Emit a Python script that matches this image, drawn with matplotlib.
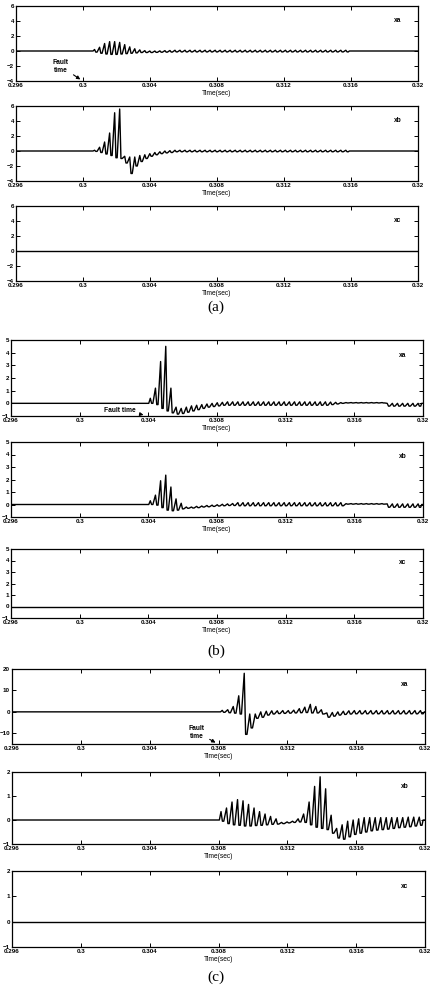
import matplotlib
matplotlib.use("Agg")
import matplotlib.pyplot as plt

# -------------------------
# Data
# -------------------------
T_MIN, T_MAX = 0.296, 0.32
XTICKS = [0.296, 0.300, 0.304, 0.308, 0.312, 0.316, 0.320]
XTICK_LABELS = ["0.296", "0.3", "0.304", "0.308", "0.312", "0.316", "0.32"]

# each signal: start of disturbance, oscillation period, then per-cycle high / low values
# (a) fault at 0.300 s
a_xa_start, a_xa_period = 0.3006, 0.0003
a_xa_hi = [0.2, 0.5, 1.0, 1.25, 1.25, 1.15, 0.85, 0.55, 0.3, 0.15, 0.05, 0.0, 0.0, 0.02, 0.05, 0.07] + [0.1] * 35
a_xa_lo = [-0.15, -0.3, -0.4, -0.45, -0.45, -0.4, -0.35, -0.3, -0.25, -0.2, -0.2, -0.2, -0.18, -0.16, -0.15, -0.14] + [-0.12] * 35

a_xb_start, a_xb_period = 0.3006, 0.0003
a_xb_hi = [0.1, 0.5, 1.2, 2.4, 5.1, 5.6, -0.7, -0.8, -0.8, -0.6, -0.5, -0.35, -0.2, -0.1, 0.0, 0.05] + [0.1] * 35
a_xb_lo = [-0.05, -0.2, -0.4, -0.6, -0.9, -1.0, -1.6, -3.0, -2.0, -1.4, -1.0, -0.7, -0.5, -0.35, -0.25, -0.2] + [-0.1] * 35

a_xc_start, a_xc_period = 0.3006, 0.0003
a_xc_hi = []
a_xc_lo = []

# (b) fault at 0.304 s
b_xa_start, b_xa_period = 0.304025, 0.0003
b_xa_hi = ([0.4, 1.2, 3.3, 4.5, 1.2, -0.3, -0.4, -0.3, -0.2, -0.15, -0.1, -0.05, 0.0, 0.05, 0.08]
           + [0.12] * 20 + [0.1, 0.08, 0.06] + [0.06] * 8 + [0.0] * 7)
b_xa_lo = ([0.0, -0.1, -0.4, -0.6, -0.75, -0.85, -0.8, -0.7, -0.6, -0.5, -0.4, -0.3, -0.25, -0.2, -0.15]
           + [-0.15] * 20 + [-0.1, -0.05, 0.0] + [0.03] * 8 + [-0.22] * 7)

b_xb_start, b_xb_period = 0.304025, 0.0003
b_xb_hi = ([0.3, 0.75, 1.9, 2.35, 1.4, 0.45, 0.1, -0.2, -0.2, -0.15, -0.12, -0.08, -0.05, -0.02, 0.02, 0.05, 0.08]
           + [0.15] * 21 + [0.07] * 8 + [0.05] * 7)
b_xb_lo = ([0.0, -0.05, -0.25, -0.45, -0.5, -0.45, -0.35, -0.3, -0.28, -0.25, -0.2, -0.18, -0.15, -0.12, -0.1, -0.08, -0.08]
           + [-0.1] * 21 + [0.03] * 8 + [-0.22] * 7)

b_xc_start, b_xc_period = 0.304025, 0.0003
b_xc_hi = []
b_xc_lo = []

# (c) fault at 0.308 s
c_xa_start, c_xa_period = 0.30812, 0.00032
c_xa_hi = ([0.7, 1.0, 2.5, 7.5, 18.0, -1.0, -1.0, 0.0, 0.3, 0.5, 0.5, 0.6, 0.6, 0.8,
            1.5, 2.2, 3.5, 2.5, 1.0, -0.5, -0.3, 0.0, 0.3, 0.5] + [0.6] * 13)
c_xa_lo = ([-0.2, -0.4, -0.6, -1.0, -10.5, -7.5, -3.0, -2.5, -1.5, -1.0, -0.8, -0.7, -0.6, -0.5,
            -0.4, -0.3, -0.5, -0.5, -1.0, -2.5, -2.0, -1.5, -1.2, -1.0] + [-0.9] * 13)

c_xb_start, c_xb_period = 0.30805, 0.00032
c_xb_hi = ([0.35, 0.5, 0.75, 0.85, 0.8, 0.65, 0.5, 0.35, 0.25, 0.15, 0.05,
            -0.1, -0.08, -0.05,
            0.05, 0.25, 0.75, 1.4, 1.8, 1.3, 0.2,
            -0.35, -0.2, -0.05, 0.0, 0.05, 0.1, 0.1, 0.1, 0.1, 0.1, 0.1, 0.1, 0.1, 0.12, 0.12, 0.12])
c_xb_lo = ([-0.05, -0.15, -0.2, -0.22, -0.25, -0.25, -0.23, -0.22, -0.2, -0.18, -0.17,
            -0.15, -0.12, -0.1,
            -0.08, -0.1, -0.2, -0.3, -0.35, -0.4, -0.55,
            -0.75, -0.8, -0.7, -0.6, -0.55, -0.5, -0.45, -0.42, -0.4, -0.38, -0.35, -0.32, -0.3, -0.28, -0.25, -0.22])

c_xc_start, c_xc_period = 0.30805, 0.00032
c_xc_hi = []
c_xc_lo = []

# y axes per panel
a_ylim, a_yticks = (-4, 6), [-4, -2, 0, 2, 4, 6]
b_ylim, b_yticks = (-1, 5), [-1, 0, 1, 2, 3, 4, 5]
c1_ylim, c1_yticks = (-15, 20), [-10, 0, 10, 20]
c2_ylim, c2_yticks = (-1, 2), [-1, 0, 1, 2]

# -------------------------
# Layout (pixel boxes: left, right, top, bottom)
# -------------------------
W, H = 430, 986
plt.rcParams['font.family'] = ['Liberation Sans Narrow', 'Liberation Sans', 'DejaVu Sans']
plt.rcParams['font.weight'] = 'bold'


def px_box(left, right, top, bottom):
    return [left / W, 1 - bottom / H, (right - left) / W, (bottom - top) / H]


def build_path(t0, period, hi, lo):
    # narrow spike up to the high value, short hold near the low value
    t = [T_MIN, t0]
    v = [0.0, 0.0]
    for k, (h, l) in enumerate(zip(hi, lo)):
        t += [t0 + (k + 0.3) * period, t0 + (k + 0.55) * period, t0 + (k + 0.8) * period]
        v += [h, l, l]
    t_end = t0 + len(hi) * period
    if t_end < T_MAX:
        t += [t_end, T_MAX]
        v += [0.0, 0.0]
    return t, v


def style_axes(ax, ylim, yticks):
    ax.set_xlim(T_MIN, T_MAX)
    ax.set_ylim(*ylim)
    ax.set_xticks(XTICKS)
    ax.set_xticklabels(XTICK_LABELS)
    ax.set_yticks(yticks)
    ax.tick_params(direction='in', top=True, right=True, length=3, width=0.7,
                   labelsize=4.5, pad=1.5)
    for sp in ax.spines.values():
        sp.set_linewidth(0.9)
    ax.set_xlabel("Time(sec)", fontsize=4.8, labelpad=1.5)


fig = plt.figure(figsize=(W / 100, H / 100), dpi=100)

panels = [
    # (box, signal, ylim, yticks, label)
    (px_box(16, 418, 6, 81), (a_xa_start, a_xa_period, a_xa_hi, a_xa_lo), a_ylim, a_yticks, "xa"),
    (px_box(16, 418, 106, 181), (a_xb_start, a_xb_period, a_xb_hi, a_xb_lo), a_ylim, a_yticks, "xb"),
    (px_box(16, 418, 206, 281), (a_xc_start, a_xc_period, a_xc_hi, a_xc_lo), a_ylim, a_yticks, "xc"),
    (px_box(11, 423, 340, 416), (b_xa_start, b_xa_period, b_xa_hi, b_xa_lo), b_ylim, b_yticks, "xa"),
    (px_box(11, 423, 442, 517), (b_xb_start, b_xb_period, b_xb_hi, b_xb_lo), b_ylim, b_yticks, "xb"),
    (px_box(11, 423, 549, 618), (b_xc_start, b_xc_period, b_xc_hi, b_xc_lo), b_ylim, b_yticks, "xc"),
    (px_box(12, 425, 669, 744), (c_xa_start, c_xa_period, c_xa_hi, c_xa_lo), c1_ylim, c1_yticks, "xa"),
    (px_box(12, 425, 772, 844), (c_xb_start, c_xb_period, c_xb_hi, c_xb_lo), c2_ylim, c2_yticks, "xb"),
    (px_box(12, 425, 871, 947), (c_xc_start, c_xc_period, c_xc_hi, c_xc_lo), c2_ylim, c2_yticks, "xc"),
]

axes = []
for box, sig, ylim, yticks, name in panels:
    ax = fig.add_axes(box)
    t, v = build_path(*sig)
    ax.plot(t, v, color="black", lw=1.0)
    style_axes(ax, ylim, yticks)
    ax.text(0.95, 0.8, name, transform=ax.transAxes, fontsize=4.8, ha="center", va="center")
    axes.append(ax)

# fault time markers
arrow = dict(arrowstyle="-|>", color="black", lw=0.8, mutation_scale=5)
axes[0].annotate("Fault\ntime", xy=(0.29998, -4.0), xytext=(0.29865, -2.0),
                 fontsize=4.8, ha="center", va="center", linespacing=1.2, arrowprops=arrow)
axes[3].annotate("Fault time", xy=(0.30388, -0.95), xytext=(0.30232, -0.55),
                 fontsize=4.8, ha="center", va="center", arrowprops=arrow)
axes[6].annotate("Fault\ntime", xy=(0.30797, -15.0), xytext=(0.30672, -9.4),
                 fontsize=4.8, ha="center", va="center", linespacing=1.2, arrowprops=arrow)

# sub-figure captions
for label, y_px in [("(a)", 307), ("(b)", 651), ("(c)", 977)]:
    fig.text(216 / W, 1 - y_px / H, label, fontsize=11, ha="center", va="center",
             family=["Liberation Serif", "DejaVu Serif"], weight="normal")

fig.savefig("out.png", dpi=100)
